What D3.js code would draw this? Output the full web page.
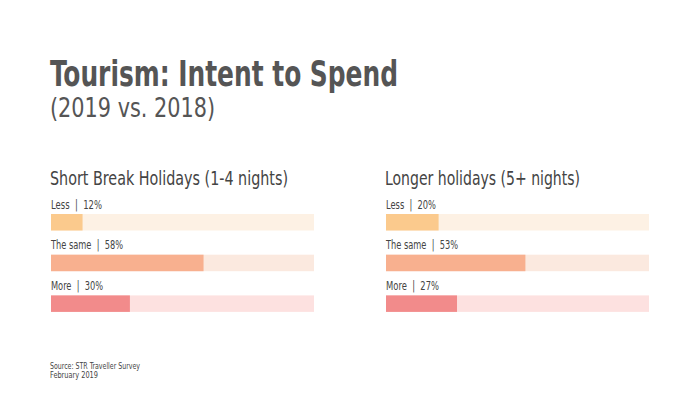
<!DOCTYPE html>
<html><head><meta charset="utf-8">
<script src="https://cdn.jsdelivr.net/npm/d3@7"></script>
<style>
body{margin:0;background:#fff;}
svg{display:block;}
text{font-family:"Liberation Sans Narrow","DejaVu Sans Condensed","Roboto",sans-serif;white-space:pre;}
</style></head>
<body>
<svg id="chart" width="700" height="412"></svg>
<script>
const categories = ["Less", "The same", "More"];
const shortBreakValues = [12, 58, 30];
const longerValues = [20, 53, 27];
const panelTitles = ["Short Break Holidays (1-4 nights)", "Longer holidays (5+ nights)"];
const barColors = ["#fbca8d", "#f8b08f", "#f28b8b"];
const trackColors = ["#fdf1e4", "#fbe9df", "#fde1e0"];

const svg = d3.select("#chart");
svg.append("rect").attr("width",700).attr("height",412).attr("fill","#fff");

svg.append("text").attr("x",50).attr("y",86).attr("fill","#555")
  .attr("font-size",36).attr("font-weight","bold")
  .attr("textLength",348).attr("lengthAdjust","spacingAndGlyphs")
  .text("Tourism: Intent to Spend");
svg.append("text").attr("x",50).attr("y",117).attr("fill","#555")
  .attr("font-size",27)
  .attr("textLength",165).attr("lengthAdjust","spacingAndGlyphs")
  .text("(2019 vs. 2018)");

const panels = [
  {x0:51, x1:314, title:panelTitles[0], values:shortBreakValues, tw:238, lw:[51,72,52]},
  {x0:386, x1:649, title:panelTitles[1], values:longerValues, tw:195, lw:[50,72,53]}
];

panels.forEach(p => {
  const x = d3.scaleLinear().domain([0,100]).range([p.x0, p.x1]);
  const g = svg.append("g");
  g.append("text").attr("x",p.x0-1).attr("y",185).attr("fill","#444")
    .attr("font-size",20)
    .attr("textLength",p.tw).attr("lengthAdjust","spacingAndGlyphs")
    .text(p.title);
  categories.forEach((c,i) => {
    const bh = 16.5;
    const yb = 214 + i*40.7;
    g.append("rect").attr("x",x(0)).attr("y",yb).attr("width",x(100)-x(0)).attr("height",bh)
      .attr("fill",trackColors[i]);
    g.append("rect").attr("x",x(0)).attr("y",yb).attr("width",x(p.values[i])-x(0)).attr("height",bh)
      .attr("fill",barColors[i]);
    g.append("text").attr("x",x(0)).attr("y",yb-5.5).attr("fill","#444")
      .attr("font-size",12.5)
      .attr("textLength",p.lw[i]).attr("lengthAdjust","spacingAndGlyphs")
      .text(c + "\u00a0\u00a0|\u00a0\u00a0" + p.values[i] + "%");
  });
});

svg.append("text").attr("x",50).attr("y",369).attr("fill","#444").attr("font-size",9)
  .attr("textLength",90).attr("lengthAdjust","spacingAndGlyphs")
  .text("Source: STR Traveller Survey");
svg.append("text").attr("x",50).attr("y",378).attr("fill","#444").attr("font-size",9)
  .attr("textLength",48).attr("lengthAdjust","spacingAndGlyphs")
  .text("February 2019");
</script>
</body></html>
